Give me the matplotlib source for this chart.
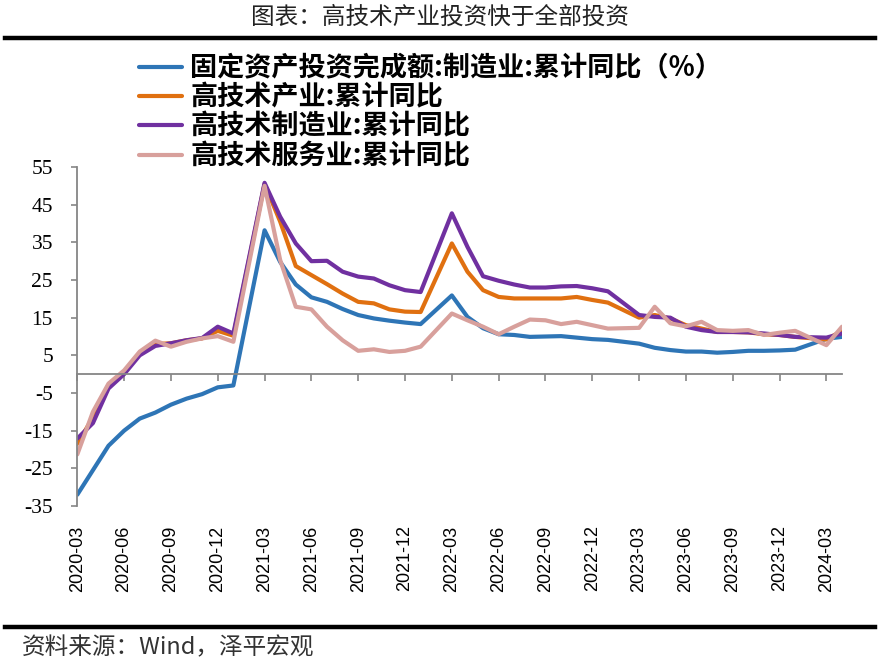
import numpy as np
import matplotlib
matplotlib.use('Agg')
import matplotlib.pyplot as plt
from matplotlib.lines import Line2D
from matplotlib.font_manager import FontProperties

plt.rcParams['axes.unicode_minus'] = False

nan = np.nan
# monthly positions (index 0 .. 49); January values are not published -> nan
tick_labels = ['2020-03', '2020-06', '2020-09', '2020-12', '2021-03', '2021-06',
               '2021-09', '2021-12', '2022-03', '2022-06', '2022-09', '2022-12',
               '2023-03', '2023-06', '2023-09', '2023-12', '2024-03']

fai_manufacturing = [-32.0, -25.5, -19.0, -15.0, -11.8, -10.2, -8.1, -6.5, -5.3, -3.5, -3.0,
                     nan, 38.2, 29.8, 23.8, 20.4, 19.2, 17.3, 15.7, 14.8, 14.2, 13.7, 13.3,
                     nan, 20.9, 15.2, 12.2, 10.6, 10.4, 9.9, 10.0, 10.1, 9.7, 9.3, 9.1,
                     nan, 8.1, 7.0, 6.4, 6.0, 6.0, 5.7, 5.9, 6.2, 6.2, 6.3, 6.5,
                     nan, 9.4, 9.9]
hightech_industry = [-18.5, -11.5, -3.0, 0.5, 5.5, 8.0, 8.2, 9.0, 9.5, 11.5, 10.2,
                     nan, 50.5, 40.5, 28.7, 26.3, 23.9, 21.4, 19.2, 18.8, 17.2, 16.6, 16.5,
                     nan, 34.7, 27.2, 22.3, 20.5, 20.1, 20.1, 20.1, 20.1, 20.5, 19.7, 19.0,
                     nan, 15.0, 15.7, 14.8, 13.0, 12.1, 11.2, 11.2, 11.1, 10.6, 10.4, 9.9,
                     nan, 9.2, 11.5]
hightech_manufacturing = [-17.1, -13.0, -3.8, 0.0, 5.0, 7.5, 8.2, 9.0, 9.6, 12.6, 10.8,
                          nan, 50.8, 41.8, 34.7, 30.0, 30.1, 27.2, 25.9, 25.4, 23.6, 22.3, 21.8,
                          nan, 42.7, 33.8, 26.0, 24.8, 23.8, 23.0, 23.0, 23.3, 23.4, 22.8, 22.0,
                          nan, 15.7, 15.2, 15.0, 12.6, 11.7, 11.2, 11.2, 11.1, 10.8, 10.4, 9.9,
                          nan, 9.7, 10.8]
hightech_services = [-21.3, -10.0, -2.5, 1.0, 6.0, 8.9, 7.3, 8.6, 9.5, 10.1, 8.6,
                     nan, 50.0, 30.3, 17.9, 17.2, 12.6, 9.0, 6.2, 6.6, 5.9, 6.2, 7.3,
                     nan, 16.1, 14.3, 12.6, 10.6, 12.6, 14.5, 14.3, 13.3, 13.9, 13.0, 12.1,
                     nan, 12.3, 17.9, 13.5, 12.7, 13.9, 11.7, 11.5, 11.7, 10.4, 11.0, 11.5,
                     nan, 7.7, 12.6]

series_names = ['固定资产投资完成额:制造业:累计同比（%）', '高技术产业:累计同比',
                '高技术制造业:累计同比', '高技术服务业:累计同比']
series_values = [fai_manufacturing, hightech_industry, hightech_manufacturing, hightech_services]
colors = ['#2E75B6', '#E07010', '#7030A0', '#D8A09C']

W, H = 880, 663
fig = plt.figure(figsize=(W / 100, H / 100), dpi=100)
ax = fig.add_axes([77.3 / W, 1 - 506 / H, (842 - 77.3) / W, (506 - 167) / H])

x = np.arange(len(fai_manufacturing))
handles = []
for name, vals, c in zip(series_names, series_values, colors):
    y = np.array(vals, dtype=float)
    m = ~np.isnan(y)
    ln, = ax.plot(x[m], y[m], color=c, lw=3.0, solid_joinstyle='round',
                  solid_capstyle='round', label=name)
    handles.append(ln)

ax.set_xlim(0, len(x) - 1)
ax.set_ylim(-35, 55)
ax.set_yticks(np.arange(-35, 56, 10))

grey = '#868686'
for s in ['top', 'right']:
    ax.spines[s].set_visible(False)
ax.spines['left'].set_color(grey)
ax.spines['left'].set_linewidth(1.3)
ax.spines['bottom'].set_position(('data', 0))
ax.spines['bottom'].set_color(grey)
ax.spines['bottom'].set_linewidth(1.3)

tick_pos = np.arange(0, len(x), 3)
ax.set_xticks(tick_pos)
ax.tick_params(axis='x', direction='out', length=5, width=1.2, color=grey,
               labelbottom=False)
ax.tick_params(axis='y', direction='out', length=4.5, width=1.2, color=grey, pad=13)
for lab in ax.get_yticklabels():
    lab.set_fontfamily('Liberation Serif')
    lab.set_fontsize(15.5)

sec = ax.secondary_xaxis('bottom')
sec.set_xticks(tick_pos)
sec.set_xticklabels(tick_labels, rotation=90, fontfamily='Liberation Sans', fontsize=13)
sec.spines['bottom'].set_visible(False)
sec.tick_params(axis='x', length=0, pad=14)

leg = ax.legend(handles=handles, loc='upper left',
                bbox_to_anchor=(139 / W, 1 - 54 / H), bbox_transform=fig.transFigure,
                frameon=False,
                prop=FontProperties(family=['Noto Sans CJK SC', 'DejaVu Sans'],
                                    weight='bold', size=19.5),
                handlelength=1.6, handletextpad=0.3, labelspacing=0.05,
                borderpad=0, borderaxespad=0)
for lh in leg.get_lines():
    lh.set_linewidth(3.0)

fig.text(0.5, 1 - 17 / H, '图表：高技术产业投资快于全部投资', ha='center', va='center',
         fontsize=17, family=['Noto Sans CJK SC', 'DejaVu Sans'], color='#222222')
fig.add_artist(Line2D([5 / W, 875 / W], [1 - 38 / H, 1 - 38 / H], color='black',
                      lw=3.2, transform=fig.transFigure))
fig.add_artist(Line2D([5 / W, 875 / W], [1 - 627 / H, 1 - 627 / H], color='black',
                      lw=3.2, transform=fig.transFigure))
fig.text(22 / W, 1 - 648 / H, '资料来源：Wind，泽平宏观', ha='left', va='center',
         fontsize=17, family=['Noto Sans CJK SC', 'DejaVu Sans'], color='#333333')

fig.savefig('out.png', dpi=100)
